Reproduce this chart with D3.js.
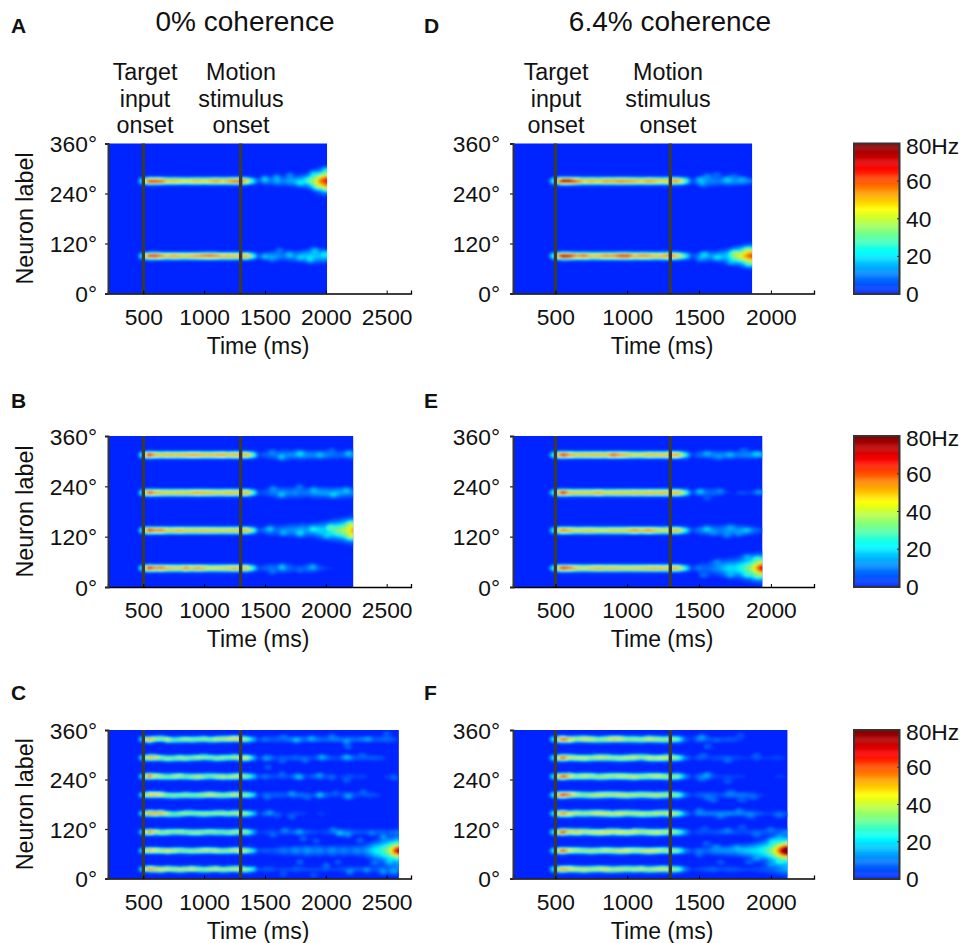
<!DOCTYPE html>
<html><head><meta charset="utf-8">
<script src="https://cdn.jsdelivr.net/npm/d3@7"></script>
<style>html,body{margin:0;padding:0;background:#fff}svg{display:block}text{font-family:"Liberation Sans",Arial,sans-serif;fill:#111}</style>
</head><body><div id="chart"></div>
<script>
// Firing-rate maps. Peak rate of each stripe in Hz, one value per 50 ms bin from 450 ms.
const binStart = 450, binStep = 50, lateStart = 1450;
const colorHz = [0, 10, 22, 33, 45, 56, 67, 80];
const colorHex = ["#0024ff", "#0080ff", "#00ffff", "#80ff80", "#ffff00", "#ff8000", "#ff0000", "#7f0000"];
const cbarTicks = [0, 20, 40, 60, 80];
const yTicks = [0, 120, 240, 360];
const xTicksLeft = [500, 1000, 1500, 2000, 2500];
const xTicksRight = [500, 1000, 1500, 2000];
const onsets = [500, 1300];

const endA = 2010, endB = 2225, endC = 2600, endD = 1869, endE = 1940, endF = 2115;
const centersA = [90, 270];
const centersB = [45, 135, 225, 315];
const centersC = [22.5, 67.5, 112.5, 157.5, 202.5, 247.5, 292.5, 337.5];

const peaksA = [
 [0,34,66,68,58,50,56,52,50,54,56,60,62,58,52,54,52,50,55,30, 5,10,12,13,9,14,11,15,18,18,17,18],
 [0,34,68,68,62,50,52,50,46,50,52,48,52,56,50,55,60,62,50,25, 5,12,9,15,11,14,15,17,22,36,54,66]];
const widthsA = [[4,6,7,7,7,7,8,8,9,10,10,9], [4,6,7,7,7,8,8,9,10,12,14,15]];
const blobsA = [[1498,276,12],[1594,280,9],[1704,284,9],[1786,264,9],[1896,288,10],[1924,256,10],[2006,296,11],[2006,252,11],[1860,272,8],
 [1498,88,9],[1622,104,8],[1786,84,8],[1910,104,11],[1869,80,10],[1992,96,8],[1700,95,7],[1560,82,6]];

const peaksB = [
 [0,36,72,58,62,52,50,48,60,50,58,50,46,46,48,50,54,50,52,28, 4,7,9,6,11,8,4,4,9,8,5,3,2,2,1,1,1],
 [0,36,70,60,62,50,50,56,50,50,50,52,50,50,48,50,50,52,54,34, 5,9,10,8,11,12,13,15,13,14,20,18,26,34,38,46,60],
 [0,36,68,56,52,50,50,52,50,54,58,54,54,50,50,54,52,52,56,32, 4,6,9,10,12,10,12,9,10,12,14,14,12,15,12,11,10],
 [0,38,72,54,50,54,52,52,54,58,56,52,52,54,58,50,56,52,54,34, 4,7,8,9,10,12,12,14,12,11,11,11,9,8,8,10,12]];
const widthsB = [
 [4,6,7,7,7,7,6,6,7,7,6,4],
 [4,6,8,8,8,9,9,10,10,10,11,12,13,13,14,15],
 [4,6,7,8,8,8,8,8,7,8,8,8,8,8,8,8],
 [4,6,7,7,8,7,7,7,7,7,7,7,6,6,6,7]];
const blobsB = [[1636,309,11],[1786,319,9],[1951,315,7],[2184,319,10],[1560,322,6],[2050,326,6],
 [1567,235,9],[1786,239,8],[1636,219,9],[2060,219,10],[2170,231,9],[1900,232,8],
 [1540,139,10],[1786,127,10],[1896,139,12],[2033,143,12],[2006,121,9],[2198,151,12],[2198,119,12],[1650,128,8],
 [1636,48,10],[1567,36,6],[1896,48,9],[1786,40,6]];

const peaksC = [
 [0,30,58,48,46,42,40,42,40,44,38,36,40,42,38,38,42,44,36,26, 3,6,6,3,4,4,7,5,4,4,4,5,3,4,5,6,7,5,6,5,7,6,8,8],
 [0,30,54,46,42,46,42,38,36,38,38,42,40,42,36,38,42,46,38,24, 4,7,5,7,10,8,13,9,14,10,12,8,13,9,11,8,12,10,15,22,26,32,38,44],
 [0,30,60,44,38,40,36,40,36,38,40,36,38,36,34,36,40,36,38,18, 2,4,5,3,5,6,7,5,6,4,3,4,5,9,9,8,6,5,5,5,7,5,6,8],
 [0,30,54,52,52,40,32,36,38,34,36,38,36,36,38,36,40,42,36,22, 2,8,6,3,2,2,4,3,2,1,3,2,1,1,1,2,1,1,1,1,1,1,1,1],
 [0,30,50,50,46,34,36,34,38,34,36,40,44,40,36,38,44,36,36,24, 2,7,6,7,6,4,8,9,5,4,9,7,4,2,6,8,5,3,6,5,2,1,1,1],
 [0,30,62,44,40,34,40,42,34,38,44,36,34,38,42,38,44,40,36,22, 4,10,5,4,5,4,10,5,3,7,5,4,4,2,3,5,3,4,2,2,1,3,4,1],
 [0,30,52,48,36,38,34,40,38,34,40,36,34,36,38,34,40,42,46,20, 2,8,8,4,6,6,8,6,5,4,7,9,5,4,8,10,6,5,6,7,5,2,1,1],
 [0,30,56,40,36,44,30,34,38,36,34,38,34,42,40,44,50,44,36,18, 3,10,6,7,5,10,8,9,8,10,9,7,9,10,7,9,8,10,8,6,7,9,6,2]];
const widthsC = [
 [4,5,5,5,5,5,5,5,5,5,5,5,5,5,5,5,5,5,5,6,7,8,8,9],
 [4,5,6,6,7,7,7,8,8,8,8,8,8,8,8,8,8,9,11,13,15,17,18,19],
 [4,5,5],[4,5,5],[4,5,5],[4,5,5],[4,5,5],[4,5,5]];
const wobbleC = [
 [0,0,1,0,-1,1,0,-1,0,1,0,-1,0,1,-1,0,1,0,-1,0],
 [0,0,1,1,0,-1,0,1,0,-1,0,1,1,0,-1,0,1,0,0,0],
 [0,0,0,1,-1,0,1,1,0,-1,-1,0,1,0,0,-1,0,1,0,0],
 [0,0,1,0,1,-1,-2,-1,1,1,0,-1,0,1,1,0,1,0,0,0],
 [0,0,1,1,1,-1,-2,-1,0,-1,-1,0,1,0,-1,0,1,1,0,0],
 [0,0,1,1,0,-1,0,1,0,-1,-1,0,1,0,-1,-1,0,1,0,0],
 [0,0,1,1,0,-2,-1,0,-1,0,1,2,1,-1,0,1,2,0,0,0],
 [0,0,-1,1,2,-1,-2,-1,0,-1,0,1,-1,0,1,1,2,1,0,0]];
const blobsC = [[2600,67.5,30,40,8],[1759,335,11],[2170,331,10],[2183,319,8],[2500,351,7],[1650,344,7],[1880,340,8],[2050,345,7],[2350,338,7],
 [1512,291,7],[1965,295,9],[2170,295,9],[1640,284,6],[1830,286,7],[2300,300,6],
 [1526,270,7],[1786,246,12],[1951,250,10],[2170,238,7],[2568,244,6],[1640,254,6],[2050,244,5],
 [1718,206,10],[1951,202,10],[2184,198,10],[2307,210,7],[1520,196,6],[1850,196,6],[2080,208,6],
 [1540,160,8],[1718,149,7],[1600,152,5],
 [1567,105,7],[1663,117,8],[1786,113,10],[1814,97,8],[2116,109,11],[2060,119,8],[2181,105,10],[2280,93,8],[2472,101,10],[1920,92,6],[2380,110,7],
 [1786,40,8],[2005,32,8],[2198,16,10],[2335,20,8],[2472,16,9],[2554,16,8],[1650,10,6],[1900,8,6],[2400,38,8],[2520,40,8],[2100,40,6]];

const peaksD = [
 [0,40,78,72,56,62,50,52,58,56,66,68,52,58,56,50,54,60,50,30, 5,8,13,11,14,19,36,46,58,66],
 [0,38,80,78,62,50,54,50,56,54,58,56,54,50,56,52,48,54,56,36, 4,10,11,11,10,14,12,13,11,6]];
const widthsD = [[4,6,8,8,9,10,11,12,13,13],[4,6,8,8,7,7,7,6,5,4]];
const blobsD = [[1509,274,9],[1556,282,8],[1520,262,8],[1625,286,7],[1695,274,7],[1741,282,6],[1800,276,6],
 [1532,94,11],[1509,82,9],[1625,86,11],[1741,98,9],[1834,106,12],[1845,70,12],[1718,74,8]];

const peaksE = [
 [0,38,70,62,50,46,50,54,50,52,50,48,50,50,52,54,50,52,54,30, 4,10,7,10,14,20,20,26,34,46,60],
 [0,36,62,54,46,50,50,46,46,50,48,50,60,52,60,50,46,50,54,30, 4,10,11,10,10,12,12,12,9,8,3],
 [0,38,74,54,50,52,50,58,48,50,52,50,54,50,54,52,54,52,56,36, 4,10,8,8,4,2,2,6,3,6,7],
 [0,38,72,58,50,52,52,54,50,66,58,52,46,46,52,50,50,56,58,30, 3,8,8,10,9,11,9,11,12,14,13]];
const widthsE = [[4,7,9,10,11,12,13,14,15,16,16],[4,6,7,7,8,8,8,7,7,6,4],[4,5,6,6,6,4],[4,6,6,7,7,6,6,6,6,5,5]];
const blobsE = [[1940,45,14,30,7],[1532,28,8],[1625,60,8],[1718,28,9],[1834,72,10],[1834,28,10],[1904,68,12],[1904,24,10],
 [1556,139,10],[1695,123,8],[1834,135,9],[1718,143,7],[1600,128,6],[1780,126,6],
 [1509,229,10],[1648,229,8],[1556,211,5],[1916,227,8],
 [1556,319,9],[1718,315,7],[1811,327,6],[1904,319,9],[1640,310,6]];

const peaksF = [
 [0,34,56,48,42,44,40,42,46,40,42,38,40,42,38,42,44,40,36,12, 2,4,6,8,4,6,6,4,3,4,5,6,8,12,14],
 [0,34,66,46,40,38,40,38,42,40,44,46,40,42,46,44,40,38,36,14, 4,9,7,11,12,13,13,17,19,21,25,34,46,58,64],
 [0,36,68,46,52,42,44,46,50,44,48,44,46,40,42,46,42,40,36,16, 2,5,4,5,7,7,5,4,5,7,6,5,5,9,11],
 [0,34,60,46,40,38,40,46,44,42,46,40,40,42,38,42,40,44,38,14, 2,10,10,10,10,12,10,9,10,7,4,3,6,5,4],
 [0,36,72,56,40,36,40,44,42,40,44,42,40,38,40,42,40,36,36,12, 2,7,7,7,4,9,9,10,7,4,2,2,1,1,1],
 [0,34,66,50,38,44,40,38,42,40,44,42,44,38,40,44,42,36,38,14, 2,8,10,4,3,4,3,3,1,2,2,1,3,2,1],
 [0,34,64,44,42,44,38,44,42,38,40,42,44,36,44,42,46,42,36,12, 2,6,3,4,5,6,4,3,2,5,2,3,4,2,1],
 [0,34,66,50,38,46,44,36,40,48,46,36,38,36,44,40,38,38,34,8, 2,10,7,3,4,6,5,2,1,1,1,1,1,1,1]];
const widthsF = [
 [4,5,5,5,5,5,5,5,5,6,7,8,9,10,11],
 [4,5,6,7,7,8,8,9,10,12,14,16,18,18,18],
 [4,5,5],[4,5,5],[4,5,5],[4,5,5],[4,5,5],[4,5,5]];
const wobbleF = [
 [0,0,0,1,0,-1,0,1,0,-1,0,1,0,1,-1,0,1,0,0,0],
 [0,0,0,1,1,0,-1,0,1,0,-1,0,1,0,-1,0,1,0,0,0],
 [0,0,0,1,0,1,0,-1,0,1,0,-1,1,1,0,-1,0,1,0,0],
 [0,0,0,-1,1,0,1,1,0,-1,0,1,0,-1,-1,0,1,0,0,0],
 [0,0,0,1,1,0,-1,0,1,1,0,-1,0,1,0,-1,0,1,0,0],
 [0,0,0,1,0,1,1,-1,0,1,1,0,-1,0,1,1,0,-1,0,0],
 [0,0,0,1,0,-1,0,1,1,0,-1,0,1,2,0,-1,0,1,0,0],
 [0,0,0,-1,1,1,0,-1,0,1,1,0,0,-1,1,0,-1,0,0,0]];
const blobsF = [[2115,67.5,32,40,8],[1560,320,7],[1700,235,6],[1600,190,8],[1800,190,7],[2000,120,7],[1800,125,6],[1550,85,7],[1850,40,7],[2000,35,8],[1650,40,6],
 [1520,344,9],[1620,335,5],[1790,348,5],[1530,299,6],[1700,285,6],[1900,299,5],[1560,252,8],[1520,240,6],
 [1560,195,6],[1720,210,6],[1880,196,6],[1500,165,7],[1650,150,7],[1780,165,7],[1860,150,6],[2060,152,6],
 [1540,122,5],[1700,118,6],[1900,105,6],[2060,100,7],[1500,58,7],[1620,78,7],[1760,76,7],[1900,48,8],[2010,92,10],[2060,40,10]];

const panels = [
 {id:"A", col:0, row:0, end:endA, centers:centersA, peaks:peaksA, widths:widthsA, blobs:blobsA, wobble:[], early:5.0},
 {id:"B", col:0, row:1, end:endB, centers:centersB, peaks:peaksB, widths:widthsB, blobs:blobsB, wobble:[], early:4.8},
 {id:"C", col:0, row:2, end:endC, centers:centersC, peaks:peaksC, widths:widthsC, blobs:blobsC, wobble:wobbleC, early:4.3},
 {id:"D", col:1, row:0, end:endD, centers:centersA, peaks:peaksD, widths:widthsD, blobs:blobsD, wobble:[], early:5.2},
 {id:"E", col:1, row:1, end:endE, centers:centersB, peaks:peaksE, widths:widthsE, blobs:blobsE, wobble:[], early:4.8},
 {id:"F", col:1, row:2, end:endF, centers:centersC, peaks:peaksF, widths:widthsF, blobs:blobsF, wobble:wobbleF, early:4.6}];

const cols = [
 {left:108, right:411, domain:[210,2700], ticks:xTicksLeft, tickLabelEnd:97, timeX:258, targetX:145, motionX:241, title:"0% coherence", titleX:245, letterX:11},
 {left:513, right:814, domain:[205,2300], ticks:xTicksRight, tickLabelEnd:500, timeX:662, targetX:556, motionX:668, title:"6.4% coherence", titleX:670, letterX:424}];
const rows = [{top:143.5,bottom:293.5,letterY:33},{top:436,bottom:587,letterY:408},{top:730,bottom:878.5,letterY:700}];

const color = d3.scaleLinear().domain(colorHz).range(colorHex).clamp(true);
const svg = d3.select("#chart").append("svg").attr("width",964).attr("height",943);
const defs = svg.append("defs");
defs.append("filter").attr("id","soft").attr("x","-5%").attr("y","-5%").attr("width","110%").attr("height","110%")
  .append("feGaussianBlur").attr("stdDeviation",0.8);

function lookup(arr, i){ return arr[Math.min(Math.max(i,0), arr.length-1)]; }
function binned(arr, t, start){
  const f = (t-start)/binStep, i = Math.floor(f), w = f-i;
  return lookup(arr,i)*(1-w) + lookup(arr,i+1)*w;
}
function rate(p, t, deg){
  let v = 0;
  p.centers.forEach((c,k)=>{
    if (t < binStart) return;
    const a = binned(p.peaks[k], t, binStart);
    const s = t < lateStart ? p.early : (t < lateStart+binStep
        ? p.early + (lookup(p.widths[k],1)-p.early)*(t-lateStart)/binStep
        : binned(p.widths[k], t, lateStart));
    const off = (p.wobble[k] && t<lateStart) ? 0.8*binned(p.wobble[k], t, binStart) : 0;
    const d = deg-c-off;
    v += a*Math.exp(-(d*d)/(2*s*s));
  });
  p.blobs.forEach(b=>{
    const st = b[3]||22, sd = b[4]||4.6;
    v += b[2]*Math.exp(-((t-b[0])*(t-b[0]))/(2*st*st) - ((deg-b[1])*(deg-b[1]))/(2*sd*sd));
  });
  return v;
}

panels.forEach(p=>{
  const C = cols[p.col], R = rows[p.row];
  const x = d3.scaleLinear().domain(C.domain).range([C.left,C.right]);
  const y = d3.scaleLinear().domain([0,360]).range([R.bottom,R.top]);
  const g = svg.append("g");
  const heatRight = x(p.end);
  g.append("rect").attr("x",C.left).attr("y",R.top).attr("width",heatRight-C.left).attr("height",R.bottom-R.top).attr("fill",color(0));
  const clipId = "clip"+p.id;
  defs.append("clipPath").attr("id",clipId).append("rect").attr("x",C.left).attr("y",R.top).attr("width",heatRight-C.left).attr("height",R.bottom-R.top);
  const cells = [];
  const dx = 1.6, dy = 1.4;
  for (let px=x(binStart); px<heatRight+dx; px+=dx){
    for (let py=R.top; py<R.bottom; py+=dy){
      const v = rate(p, x.invert(Math.min(px+dx/2,heatRight)), y.invert(py+dy/2));
      if (v>2) cells.push({t:x.invert(px), deg:y.invert(py), v});
    }
  }
  g.append("g").attr("clip-path",`url(#${clipId})`).append("g").attr("filter","url(#soft)")
    .selectAll("rect").data(cells).join("rect")
    .attr("x",d=>x(d.t)).attr("y",d=>y(d.deg)).attr("width",dx+0.3).attr("height",dy+0.3)
    .attr("fill",d=>color(d.v));

  g.selectAll(".on").data(onsets).join("line").attr("class","on")
    .attr("x1",d=>x(d)).attr("x2",d=>x(d)).attr("y1",R.top).attr("y2",R.bottom)
    .attr("stroke","#383838").attr("stroke-width",3.4);

  // axes
  const ax = d3.axisBottom(x).tickValues(C.ticks).tickSize(-3).tickPadding(0).tickFormat(d3.format("d"));
  const gx = g.append("g").attr("transform",`translate(0,${R.bottom})`).call(ax);
  gx.select(".domain").attr("stroke","#000").attr("stroke-width",1.3);
  gx.selectAll(".tick line").attr("stroke","#000").attr("stroke-width",1);
  gx.selectAll(".tick text").attr("y",31).attr("dy",0).attr("font-size",22.8).attr("fill","#111");
  const ay = d3.axisLeft(y).tickValues(yTicks).tickSize(3).tickPadding(0).tickFormat(d=>d+"°");
  const gy = g.append("g").attr("transform",`translate(${C.left},0)`).call(ay);
  gy.select(".domain").attr("stroke","#333").attr("stroke-width",2);
  gy.selectAll(".tick line").attr("stroke","#222").attr("stroke-width",1.2);
  gy.selectAll(".tick text").attr("x",C.tickLabelEnd-C.left).attr("dy",8).attr("font-size",22.8).attr("fill","#111");

  g.append("text").attr("x",C.timeX).attr("y",R.bottom+60).attr("text-anchor","middle").attr("font-size",23).text("Time (ms)");
  if (p.col===0) g.append("text").attr("transform",`translate(33,${(R.top+R.bottom)/2}) rotate(-90)`).attr("text-anchor","middle").attr("font-size",23.3).text("Neuron label");
  g.append("text").attr("x",C.letterX).attr("y",R.letterY).attr("font-size",21).attr("font-weight","bold").attr("fill","#000").text(p.id);
  if (p.row===0){
    g.append("text").attr("x",C.titleX).attr("y",31).attr("text-anchor","middle").attr("font-size",28).text(C.title);
    [["Target","input","onset",C.targetX],["Motion","stimulus","onset",C.motionX]].forEach(a=>{
      a.slice(0,3).forEach((s,i)=>g.append("text").attr("x",a[3]).attr("y",80+i*26.5).attr("text-anchor","middle").attr("font-size",23.3).text(s));
    });
  }
});

// colour bars
rows.forEach((R,i)=>{
  const t = R.top, b = i===0?294:(i===1?587:879);
  const yb = d3.scaleLinear().domain([0,80]).range([b,t]);
  const g = svg.append("g");
  g.selectAll("rect").data(d3.range(0,80,0.5)).join("rect")
    .attr("x",854).attr("width",45).attr("y",d=>yb(d+0.5)).attr("height",d=>yb(d)-yb(d+0.5)+0.4).attr("fill",d=>color(d));
  g.append("rect").attr("x",854).attr("y",t).attr("width",45.5).attr("height",b-t).attr("fill","none").attr("stroke","#333").attr("stroke-width",2);
  const ticks = g.selectAll(".t").data(cbarTicks).join("g").attr("class","t");
  ticks.append("line").attr("x1",897).attr("x2",900).attr("y1",d=>yb(d)).attr("y2",d=>yb(d)).attr("stroke","#333").attr("stroke-width",1);
  ticks.append("text").attr("x",906).attr("y",d=>yb(d)+(d===80?10:8)).attr("font-size",22.8).text(d=>d===80?"80Hz":d);
});
</script></body></html>
